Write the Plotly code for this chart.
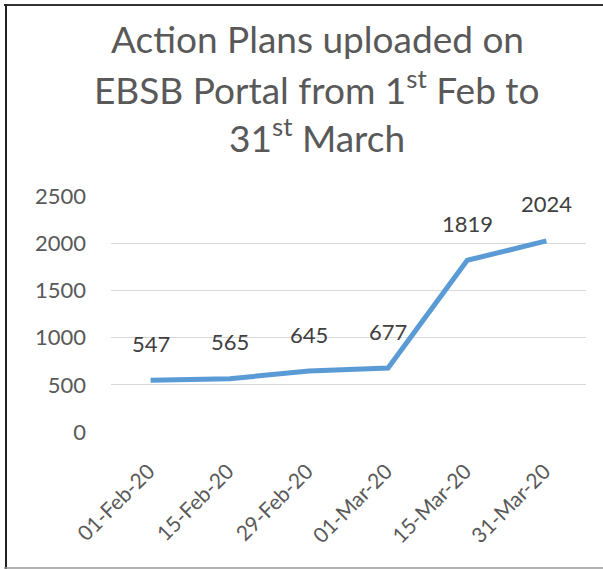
import plotly.graph_objects as go

categories = ["01-Feb-20", "15-Feb-20", "29-Feb-20", "01-Mar-20", "15-Mar-20", "31-Mar-20"]
values = [547, 565, 645, 677, 1819, 2024]
y_ticks = [0, 500, 1000, 1500, 2000, 2500]
title_lines = [
    "Action Plans uploaded on",
    "EBSB Portal from 1<sup>st</sup> Feb to",
    "31<sup>st</sup> March",
]

W, H = 603, 569
L, R, T, B = 111, 603 - 586, 196, 569 - 432
pw, ph = W - L - R, H - T - B

def px_x(px):
    return (px - L) / pw

def px_y(py):
    return (H - B - py) / ph

FONT = "Lato, Carlito, Calibri, sans-serif"
GREY = "#595959"

fig = go.Figure()
fig.add_trace(go.Scatter(
    x=categories, y=values, mode="lines",
    line=dict(color="#5B9BD5", width=5),
    hoverinfo="x+y", showlegend=False,
))

annotations = []
for c, v in zip(categories, values):
    annotations.append(dict(
        x=c, y=v, xref="x", yref="y", text=str(v), showarrow=False,
        yshift=37, font=dict(family=FONT, size=22, color="#404040"),
    ))

title_centers = [38, 87, 135]
for line, cy in zip(title_lines, title_centers):
    annotations.append(dict(
        x=px_x(317), y=px_y(cy), xref="paper", yref="paper", text=line,
        showarrow=False, xanchor="center", yanchor="middle",
        font=dict(family=FONT, size=37, color=GREY),
    ))

border = [
    dict(x0=px_x(4), x1=px_x(603), y0=px_y(5), y1=px_y(5), color="#333333", width=2),
    dict(x0=px_x(6), x1=px_x(6), y0=px_y(4), y1=px_y(569), color="#222222", width=2),
    dict(x0=px_x(4), x1=px_x(603), y0=px_y(568), y1=px_y(568), color="#999999", width=1.5),
]
shapes = [dict(type="line", xref="paper", yref="paper",
               x0=b["x0"], x1=b["x1"], y0=b["y0"], y1=b["y1"],
               line=dict(color=b["color"], width=b["width"]), layer="below")
          for b in border]

fig.update_layout(
    width=W, height=H,
    margin=dict(l=L, r=R, t=T, b=B, pad=0),
    paper_bgcolor="white", plot_bgcolor="white",
    annotations=annotations,
    shapes=shapes,
    xaxis=dict(
        type="category", range=[-0.5, 5.5], showgrid=False, showline=False,
        zeroline=False, tickangle=-45, ticks="", ticklabelstandoff=22,
        ticklabelshift=-2,
        tickfont=dict(family=FONT, size=21, color=GREY),
    ),
    yaxis=dict(
        range=[0, 2500], tickvals=y_ticks, showgrid=True, gridcolor="#D9D9D9",
        gridwidth=1, zeroline=False, showline=False, ticks="",
        ticklabelstandoff=24,
        tickfont=dict(family=FONT, size=22, color=GREY),
    ),
)

fig.write_html(
    "out.html",
    config={"displayModeBar": False},
    post_script="document.body.style.margin='0';document.body.style.overflow='hidden';",
)
